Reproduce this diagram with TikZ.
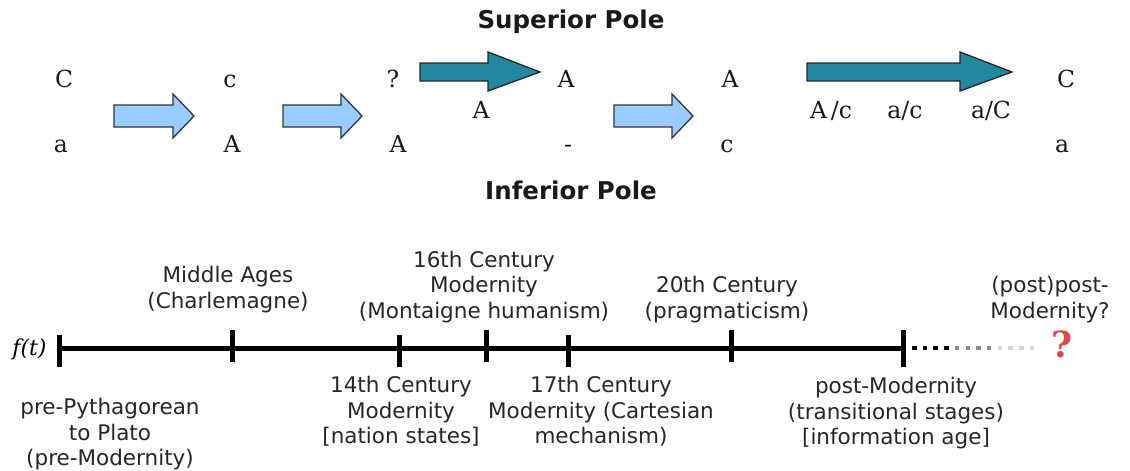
\documentclass[tikz,border=0pt]{standalone}
\usepackage{fontspec}
\setmainfont{DejaVu Serif}
\newfontfamily\dvsans{DejaVu Sans}
\newfontfamily\dvserif{DejaVu Serif}
\definecolor{lightblue}{HTML}{99CCFF}
\definecolor{tealarrow}{HTML}{21889F}
\definecolor{redq}{HTML}{DD4848}
\definecolor{dotgray}{HTML}{8A8A8A}
\definecolor{dotlight}{HTML}{D2D2D2}
\begin{document}
\begin{tikzpicture}[x=1pt,y=-1pt,
  letter/.style={font=\dvserif\fontsize{23.5}{28}\selectfont, anchor=base, inner sep=0pt, text=black!90},
  pole/.style={font=\dvsans\bfseries\fontsize{24.5}{29}\selectfont, anchor=base, inner sep=0pt, text=black!90},
  era/.style={font=\dvsans\fontsize{21.5}{25.6}\selectfont, align=center, anchor=north, inner sep=0pt, text=black!85},
  lightarrow/.style={fill=lightblue, draw=black!80, line width=1.3pt, line join=miter},
  darkarrow/.style={fill=tealarrow, draw=black!85, line width=1.3pt, line join=miter},
  axis/.style={line width=5pt, line cap=butt},
  tickmark/.style={line width=5pt, line cap=butt},
]
\useasboundingbox (0,0) rectangle (1130,471);

% poles
\node[pole] (sup) at (571,28) {Superior Pole};
\node[pole] (inf) at (571,199) {Inferior Pole};

% letter columns
\node[letter] (c1t) at (64,87) {C};
\node[letter] (c1b) at (61,152) {a};
\node[letter] (c2t) at (230,87) {c};
\node[letter] (c2b) at (232,152) {A};
\node[letter] (c3t) at (393,87) {?};
\node[letter] (c3m) at (481,118) {A};
\node[letter] (c3b) at (398,152) {A};
\node[letter] (c4t) at (566,87) {A};
\node[letter] (c4b) at (568,152) {-};
\node[letter] (c5t) at (730,87) {A};
\node[letter] (c5b) at (727,152) {c};
\node[letter] (m1) at (831,118) {A\,/c};
\node[letter] (m2) at (905,118) {a/c};
\node[letter] (m3) at (991,118) {a/C};
\node[letter] (c6t) at (1066,87) {C};
\node[letter] (c6b) at (1062,152) {a};

% light block arrows
\draw[lightarrow] (114,105) -- (173,105) -- (173,94) -- (194,116) -- (173,138) -- (173,127) -- (114,127) -- cycle;
\draw[lightarrow] (283,105) -- (341,105) -- (341,94) -- (362,116) -- (341,138) -- (341,127) -- (283,127) -- cycle;
\draw[lightarrow] (614,105) -- (672,105) -- (672,94) -- (693,116) -- (672,138) -- (672,127) -- (614,127) -- cycle;

% dark block arrows
\draw[darkarrow] (420,63) -- (488,63) -- (488,52) -- (540,72) -- (488,91) -- (488,81) -- (420,81) -- cycle;
\draw[darkarrow] (807,63) -- (960,63) -- (960,52) -- (1012,72) -- (960,91) -- (960,81) -- (807,81) -- cycle;

% timeline
\node[font=\dvserif\itshape\fontsize{22}{26}\selectfont, anchor=base, inner sep=0pt] (ft) at (29.5,355) {f(t)};
\coordinate (t0) at (59,348);
\coordinate (t6) at (903,348);
\draw[axis] (t0) -- (t6);
\draw[tickmark] (59,335) -- (59,367);
\draw[tickmark] (232,330) -- (232,362);
\draw[tickmark] (399,335) -- (399,367);
\draw[tickmark] (486,330) -- (486,362);
\draw[tickmark] (568,335) -- (568,367);
\draw[tickmark] (731,330) -- (731,362);
\draw[tickmark] (903,330) -- (903,367);

\foreach \i in {0,1,2,3} {\fill[black] ({912+10.7*\i},345.75) rectangle +(4.5,4.5);}
\foreach \i in {4,5,6,7} {\fill[dotgray] ({912+10.7*\i},345.75) rectangle +(4.5,4.5);}
\foreach \i in {8,9,10,11} {\fill[dotlight] ({912+10.7*\i},345.75) rectangle +(4.5,4.5);}
\node[font=\dvserif\bfseries\fontsize{36}{40}\selectfont, text=redq, anchor=base, inner sep=0pt] (qm) at (1062,357) {?};

% era labels above
\node[era] (ma) at (228,266) {Middle Ages\\(Charlemagne)};
\node[era] (c16) at (484,250.5) {16th Century\\Modernity\\(Montaigne humanism)};
\node[era] (c20) at (727,276) {20th Century\\(pragmaticism)};
\node[era] (ppm) at (1050,276) {(post)post-\\Modernity?};

% era labels below
\node[era] (pre) at (110,398) {pre-Pythagorean\\to Plato\\(pre-Modernity)};
\node[era] (c14) at (401,376) {14th Century\\Modernity\\{[nation states]}};
\node[era] (c17) at (601,376) {17th Century\\Modernity (Cartesian\\mechanism)};
\node[era] (pm) at (896,377) {post-Modernity\\(transitional stages)\\{[information age]}};
\end{tikzpicture}
\end{document}
